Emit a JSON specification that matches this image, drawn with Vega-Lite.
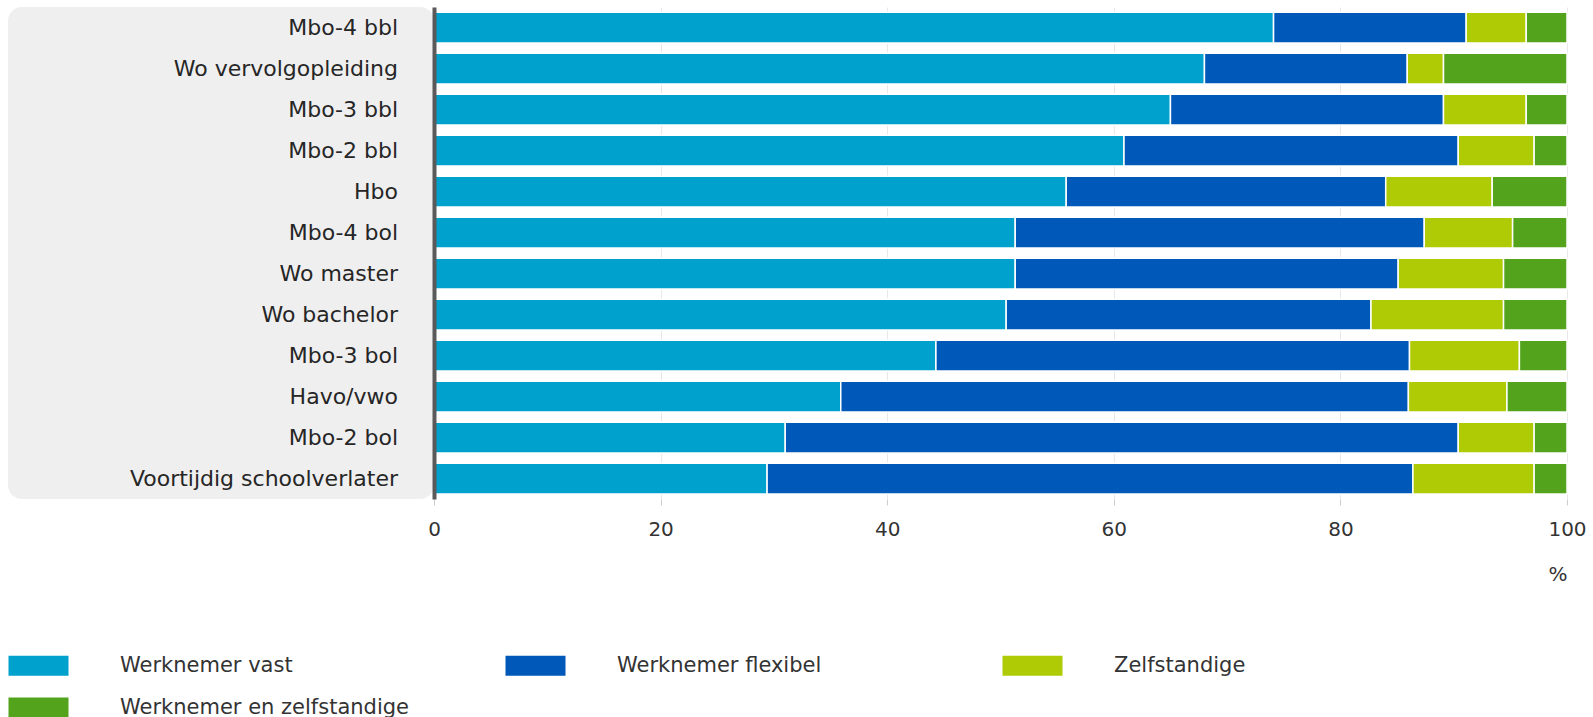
{
  "$schema": "https://vega.github.io/schema/vega-lite/v6.json",
  "padding": {"left": 8, "top": 7, "right": 0, "bottom": 0},
  "background": "white",
  "bounds": "flush",
  "config": {"font": "DejaVu Sans", "view": {"stroke": null}},
  "data": {"values": [
    {"cat": "Mbo-4 bbl", "series": "Werknemer vast", "value": 74.1},
    {"cat": "Mbo-4 bbl", "series": "Werknemer flexibel", "value": 17.0},
    {"cat": "Mbo-4 bbl", "series": "Zelfstandige", "value": 5.3},
    {"cat": "Mbo-4 bbl", "series": "Werknemer en zelfstandige", "value": 3.6},
    {"cat": "Wo vervolgopleiding", "series": "Werknemer vast", "value": 68.0},
    {"cat": "Wo vervolgopleiding", "series": "Werknemer flexibel", "value": 17.9},
    {"cat": "Wo vervolgopleiding", "series": "Zelfstandige", "value": 3.2},
    {"cat": "Wo vervolgopleiding", "series": "Werknemer en zelfstandige", "value": 10.9},
    {"cat": "Mbo-3 bbl", "series": "Werknemer vast", "value": 65.0},
    {"cat": "Mbo-3 bbl", "series": "Werknemer flexibel", "value": 24.1},
    {"cat": "Mbo-3 bbl", "series": "Zelfstandige", "value": 7.3},
    {"cat": "Mbo-3 bbl", "series": "Werknemer en zelfstandige", "value": 3.6},
    {"cat": "Mbo-2 bbl", "series": "Werknemer vast", "value": 60.9},
    {"cat": "Mbo-2 bbl", "series": "Werknemer flexibel", "value": 29.5},
    {"cat": "Mbo-2 bbl", "series": "Zelfstandige", "value": 6.7},
    {"cat": "Mbo-2 bbl", "series": "Werknemer en zelfstandige", "value": 2.9},
    {"cat": "Hbo", "series": "Werknemer vast", "value": 55.8},
    {"cat": "Hbo", "series": "Werknemer flexibel", "value": 28.2},
    {"cat": "Hbo", "series": "Zelfstandige", "value": 9.4},
    {"cat": "Hbo", "series": "Werknemer en zelfstandige", "value": 6.6},
    {"cat": "Mbo-4 bol", "series": "Werknemer vast", "value": 51.3},
    {"cat": "Mbo-4 bol", "series": "Werknemer flexibel", "value": 36.1},
    {"cat": "Mbo-4 bol", "series": "Zelfstandige", "value": 7.8},
    {"cat": "Mbo-4 bol", "series": "Werknemer en zelfstandige", "value": 4.8},
    {"cat": "Wo master", "series": "Werknemer vast", "value": 51.3},
    {"cat": "Wo master", "series": "Werknemer flexibel", "value": 33.8},
    {"cat": "Wo master", "series": "Zelfstandige", "value": 9.3},
    {"cat": "Wo master", "series": "Werknemer en zelfstandige", "value": 5.6},
    {"cat": "Wo bachelor", "series": "Werknemer vast", "value": 50.5},
    {"cat": "Wo bachelor", "series": "Werknemer flexibel", "value": 32.2},
    {"cat": "Wo bachelor", "series": "Zelfstandige", "value": 11.7},
    {"cat": "Wo bachelor", "series": "Werknemer en zelfstandige", "value": 5.6},
    {"cat": "Mbo-3 bol", "series": "Werknemer vast", "value": 44.3},
    {"cat": "Mbo-3 bol", "series": "Werknemer flexibel", "value": 41.8},
    {"cat": "Mbo-3 bol", "series": "Zelfstandige", "value": 9.7},
    {"cat": "Mbo-3 bol", "series": "Werknemer en zelfstandige", "value": 4.2},
    {"cat": "Havo/vwo", "series": "Werknemer vast", "value": 35.9},
    {"cat": "Havo/vwo", "series": "Werknemer flexibel", "value": 50.1},
    {"cat": "Havo/vwo", "series": "Zelfstandige", "value": 8.7},
    {"cat": "Havo/vwo", "series": "Werknemer en zelfstandige", "value": 5.3},
    {"cat": "Mbo-2 bol", "series": "Werknemer vast", "value": 31.0},
    {"cat": "Mbo-2 bol", "series": "Werknemer flexibel", "value": 59.4},
    {"cat": "Mbo-2 bol", "series": "Zelfstandige", "value": 6.7},
    {"cat": "Mbo-2 bol", "series": "Werknemer en zelfstandige", "value": 2.9},
    {"cat": "Voortijdig schoolverlater", "series": "Werknemer vast", "value": 29.4},
    {"cat": "Voortijdig schoolverlater", "series": "Werknemer flexibel", "value": 57.0},
    {"cat": "Voortijdig schoolverlater", "series": "Zelfstandige", "value": 10.7},
    {"cat": "Voortijdig schoolverlater", "series": "Werknemer en zelfstandige", "value": 2.9}
  ]},
  "spacing": 0,
  "hconcat": [
    {
      "width": 426,
      "height": 492,
      "view": {"fill": "#efefef", "stroke": null, "cornerRadius": 14},
      "transform": [{"filter": "datum.series === 'Werknemer vast'"}],
      "mark": {"type": "text", "align": "right", "baseline": "middle", "fontSize": 22, "font": "DejaVu Sans", "color": "#262626", "dx": -36},
      "encoding": {
        "y": {"field": "cat", "type": "nominal", "sort": null, "axis": null,
              "scale": {"paddingInner": 0.25, "paddingOuter": 0.125}},
        "x": {"datum": 1, "type": "quantitative", "scale": {"domain": [0, 1]}, "axis": null},
        "text": {"field": "cat"}
      }
    },
    {
      "width": 1133,
      "height": 492,
      "transform": [{"calculate": "indexof(['Werknemer vast','Werknemer flexibel','Zelfstandige','Werknemer en zelfstandige'], datum.series)", "as": "ord"}],
      "mark": {"type": "bar", "stroke": "white", "strokeWidth": 1.5},
      "encoding": {
        "y": {"field": "cat", "type": "nominal", "sort": null,
              "scale": {"paddingInner": 0.25, "paddingOuter": 0.125},
              "axis": {"labels": false, "ticks": false, "tickSize": 0, "labelPadding": 0,
                       "minExtent": 0, "maxExtent": 0, "title": null, "grid": false,
                       "domainColor": "#5a5a5a", "domainWidth": 4, "zindex": 1}},
        "x": {"field": "value", "type": "quantitative", "stack": "zero",
              "scale": {"domain": [0, 100], "nice": false},
              "axis": {"values": [0, 20, 40, 60, 80, 100], "domain": false, "grid": true,
                       "gridColor": "#e8e8e8", "tickColor": "#cccccc", "tickSize": 6,
                       "labelFontSize": 20, "labelColor": "#333333", "labelPadding": 14,
                       "labelFlush": false, "title": "%", "titleAnchor": "end",
                       "titleFontSize": 20, "titleFontWeight": "normal", "titleColor": "#333333",
                       "titlePadding": 25}},
        "color": {"field": "series", "type": "nominal",
                  "scale": {"domain": ["Werknemer vast", "Werknemer flexibel", "Zelfstandige", "Werknemer en zelfstandige"],
                            "range": ["#00a1cd", "#0058b8", "#afcb05", "#53a31d"]},
                  "legend": {"orient": "none", "legendX": 0, "legendY": 648, "direction": "horizontal",
                             "columns": 3, "title": null, "symbolType": "M-1,-1H5V1H-1Z", "symbolSize": 400,
                             "symbolStrokeWidth": 0, "symbolOpacity": 1, "labelFontSize": 21,
                             "labelColor": "#333333", "labelOffset": 91, "gridAlign": "all",
                             "columnPadding": 95, "rowPadding": 20, "labelLimit": 500}},
        "order": {"field": "ord", "type": "quantitative"}
      }
    }
  ]
}
